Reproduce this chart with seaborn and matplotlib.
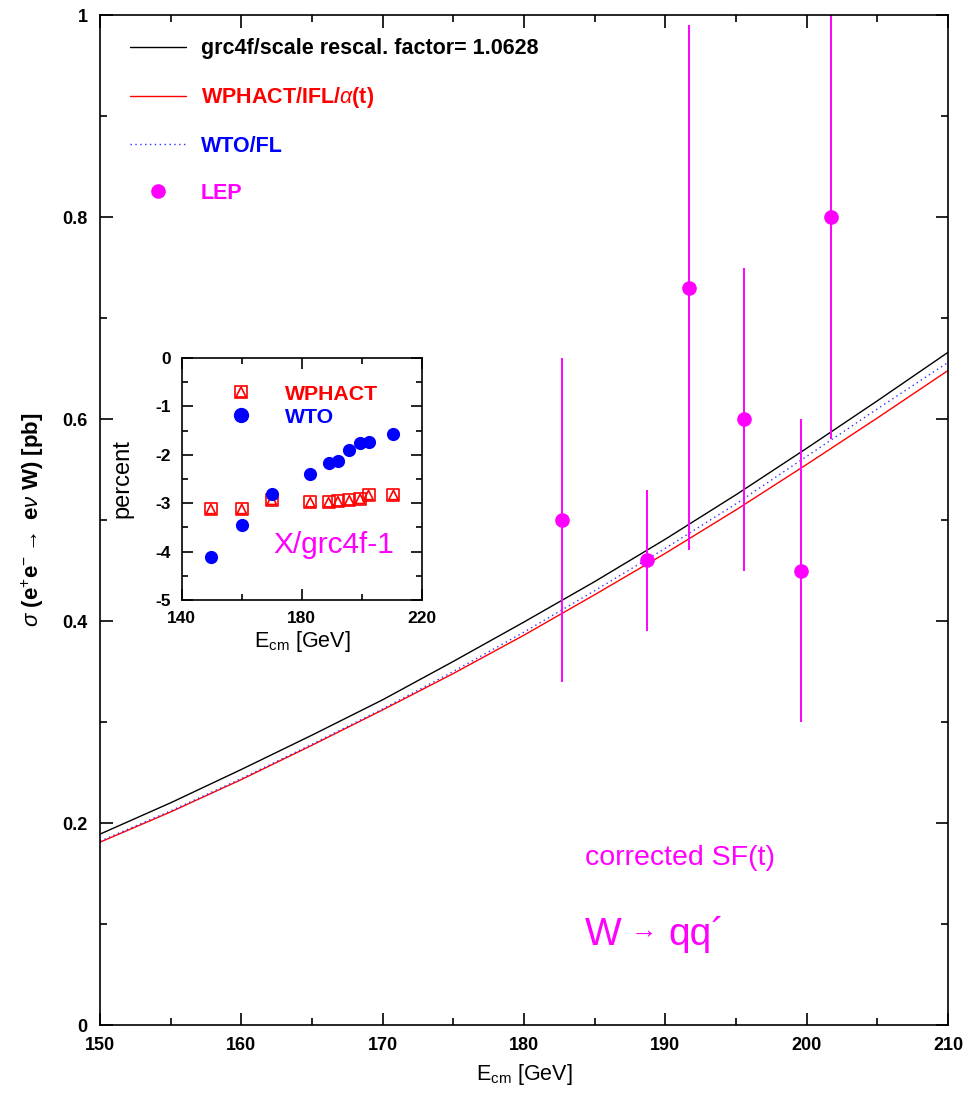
import matplotlib
matplotlib.use("Agg")
import matplotlib.pyplot as plt
from matplotlib.lines import Line2D
from matplotlib.legend_handler import HandlerTuple
import seaborn as sns
import numpy as np

# main curves, read every 5 GeV
ecm_grid = [150, 155, 160, 165, 170, 175, 180, 185, 190, 195, 200, 205, 210]
grc4f = [0.189, 0.220, 0.253, 0.287, 0.322, 0.360, 0.399, 0.439, 0.481, 0.525, 0.571, 0.618, 0.666]
wphact = [0.181, 0.211, 0.243, 0.277, 0.312, 0.348, 0.386, 0.426, 0.467, 0.510, 0.555, 0.601, 0.648]
wto = [0.182, 0.212, 0.244, 0.278, 0.313, 0.350, 0.389, 0.430, 0.472, 0.516, 0.563, 0.610, 0.656]

# LEP measurements
lep_e = [182.7, 188.7, 191.7, 195.6, 199.6, 201.7]
lep_sigma = [0.500, 0.460, 0.730, 0.600, 0.450, 0.800]
lep_err = [0.16, 0.07, 0.26, 0.15, 0.15, 0.22]

# inset: X/grc4f - 1 in percent
inset_e = [149.7, 160.0, 170.0, 182.8, 188.9, 192.0, 195.8, 199.4, 202.2, 210.5]
wphact_pct = [-3.12, -3.12, -2.93, -2.98, -2.98, -2.96, -2.94, -2.91, -2.83, -2.83]
wto_pct = [-4.12, -3.45, -2.81, -2.39, -2.17, -2.13, -1.90, -1.76, -1.73, -1.57]

MAG = "#ff00ff"

sns.set_theme(style="ticks")
plt.rcParams["font.family"] = ["Liberation Sans", "DejaVu Sans"]
plt.rcParams["mathtext.fontset"] = "custom"
plt.rcParams["mathtext.rm"] = "Liberation Sans"
plt.rcParams["mathtext.it"] = "Liberation Sans:italic"
plt.rcParams["mathtext.bf"] = "Liberation Sans:bold"
plt.rcParams["axes.unicode_minus"] = False
plt.rcParams["text.color"] = "black"
plt.rcParams["axes.labelcolor"] = "black"

fig = plt.figure(figsize=(9.69, 10.95), dpi=100)
ax = fig.add_axes([100 / 969, 70 / 1095, 848 / 969, 1010 / 1095])

sns.lineplot(x=ecm_grid, y=grc4f, color="black", lw=1.0, ax=ax,
             label="grc4f/scale rescal. factor= 1.0628")
sns.lineplot(x=ecm_grid, y=wphact, color="red", lw=1.0, ax=ax,
             label=r"WPHACT/IFL/$\alpha$(t)")
sns.lineplot(x=ecm_grid, y=wto, color="#3030ff", lw=1.0, ax=ax,
             linestyle=(0, (1, 2.5)), label="WTO/FL")
ax.errorbar(lep_e, lep_sigma, yerr=lep_err, fmt="o", color=MAG, ms=9.5,
            elinewidth=1.4, capsize=0)

ax.set_xlim(150, 210)
ax.set_ylim(0, 1)
ax.set_xticks(np.arange(150, 211, 10))
ax.set_xticks(np.arange(155, 210, 10), minor=True)
ax.set_yticks([0, 0.2, 0.4, 0.6, 0.8, 1])
ax.set_yticklabels(["0", "0.2", "0.4", "0.6", "0.8", "1"])
ax.set_yticks(np.arange(0.1, 1.0, 0.2), minor=True)
ax.tick_params(which="both", direction="in", top=True, right=True, width=1.2,
               labelsize=13, colors="black")
ax.tick_params(which="major", length=9, pad=9)
ax.tick_params(which="minor", length=5)
for lab in ax.get_xticklabels() + ax.get_yticklabels():
    lab.set_fontweight("bold")
for sp in ax.spines.values():
    sp.set_linewidth(1.2)
    sp.set_color("black")

ax.set_xlabel(r"E$_{\rm cm}$ [GeV]", fontsize=15.5)
ax.xaxis.set_label_coords(0.5, -0.037)
ax.set_ylabel(r"$\sigma$ (e$^{+}$e$^{-}$$\rightarrow$ e$\nu$ W) [pb]", fontsize=16,
              fontweight="bold")
ax.yaxis.set_label_coords(-0.064, 0.5)

h, l = ax.get_legend_handles_labels()
h = h[:3] + [Line2D([], [], ls="none", marker="o", color=MAG, ms=9.5)]
l = l[:3] + ["LEP"]
leg = ax.legend(h, l, loc="upper left", bbox_to_anchor=(0.035, 0.977), frameon=False,
                handlelength=2.6, handletextpad=0.7, labelspacing=1.2,
                borderpad=0, borderaxespad=0, prop={"weight": "bold", "size": 15.5})
for t, c in zip(leg.get_texts(), ["black", "red", "blue", MAG]):
    t.set_color(c)

ax.text(184.3, 0.158, "corrected SF(t)", color=MAG, fontsize=20.5)
ax.text(184.3, 0.079, "W", color=MAG, fontsize=28)
ax.text(187.2, 0.087, r"$\rightarrow$", color=MAG, fontsize=19)
ax.text(190.2, 0.079, "qq\u00b4", color=MAG, fontsize=28)

# inset
axin = fig.add_axes([181.7 / 969, 495 / 1095, 240.3 / 969, 242 / 1095])
sns.scatterplot(x=inset_e, y=wphact_pct, marker="s", s=75, facecolors="none",
                edgecolor="red", linewidth=1.2, ax=axin)
sns.scatterplot(x=inset_e, y=wphact_pct, marker="^", s=45, facecolors="none",
                edgecolor="red", linewidth=1.2, ax=axin)
sns.scatterplot(x=inset_e, y=wto_pct, marker="o", s=90, color="blue",
                edgecolor="blue", linewidth=0, ax=axin)
axin.set_xlim(140, 220)
axin.set_ylim(-5, 0)
axin.set_xticks([140, 180, 220])
axin.set_xticks([160, 200], minor=True)
axin.set_yticks([-5, -4, -3, -2, -1, 0])
axin.set_yticks(np.arange(-4.5, 0, 1.0), minor=True)
axin.tick_params(which="both", direction="in", top=True, right=True, width=1.2,
                 labelsize=12.5, colors="black")
axin.tick_params(which="major", length=8, pad=8)
axin.tick_params(which="minor", length=4.5)
for lab in axin.get_xticklabels() + axin.get_yticklabels():
    lab.set_fontweight("bold")
for sp in axin.spines.values():
    sp.set_linewidth(1.2)
    sp.set_color("black")
axin.set_xlabel(r"E$_{\rm cm}$ [GeV]", fontsize=15.5)
axin.xaxis.set_label_coords(0.5, -0.12)
axin.set_ylabel("percent", fontsize=17)
axin.yaxis.set_label_coords(-0.20, 0.5)

h_sq = Line2D([], [], ls="none", marker="s", ms=9, mfc="none", mec="red", mew=1.2)
h_tr = Line2D([], [], ls="none", marker="^", ms=7, mfc="none", mec="red", mew=1.2)
h_wto = Line2D([], [], ls="none", marker="o", ms=10, color="blue")
leg2 = axin.legend([(h_sq, h_tr), h_wto], ["WPHACT", "WTO"], loc="upper left",
                   bbox_to_anchor=(0.16, 0.89), frameon=False,
                   handler_map={tuple: HandlerTuple(ndivide=1)},
                   prop={"weight": "bold", "size": 15.3}, handlelength=2.0,
                   handletextpad=1.04, labelspacing=0.2, borderpad=0, borderaxespad=0)
for t, c in zip(leg2.get_texts(), ["red", "blue"]):
    t.set_color(c)
axin.text(170.4, -4.02, "X/grc4f-1", color=MAG, fontsize=21.5)

fig.savefig("out.png", dpi=100)
